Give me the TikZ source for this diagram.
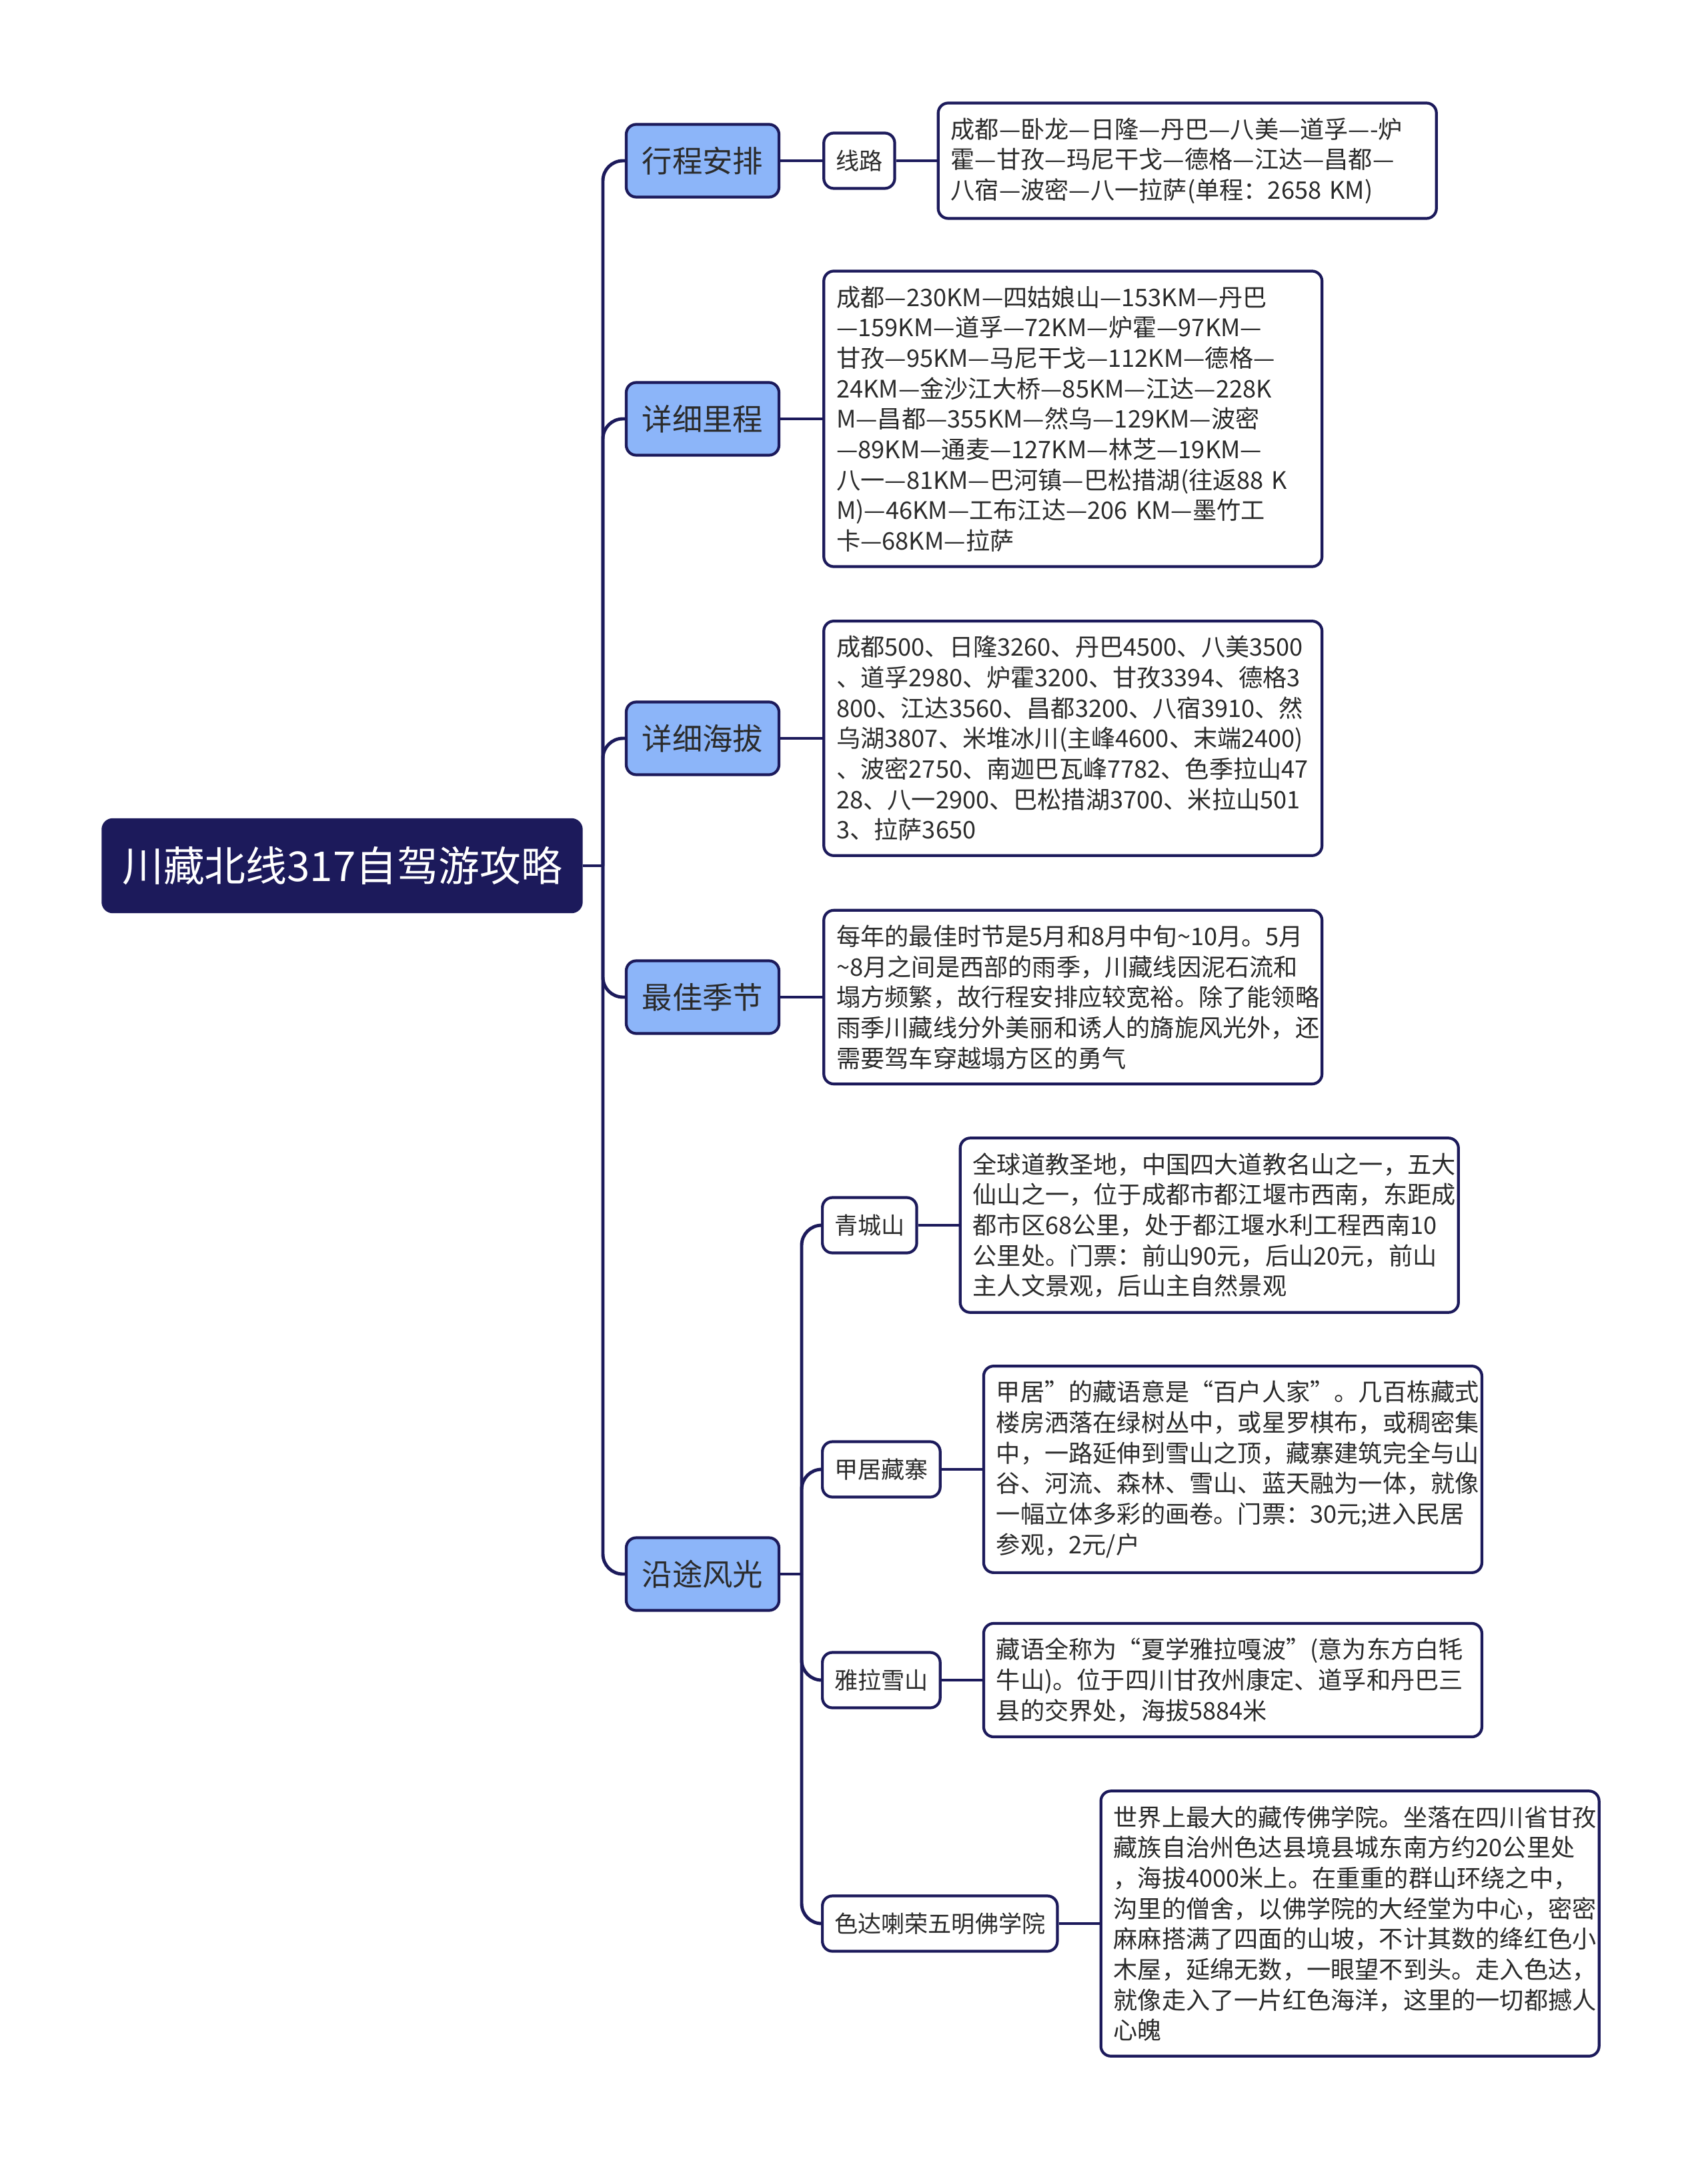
\documentclass[tikz,border=0pt]{standalone}
\usepackage{fontspec}
\setmainfont{Noto Sans CJK SC}
\usepackage{xcolor}
\usetikzlibrary{positioning}
\definecolor{navy}{HTML}{1C1A5B}
\definecolor{topicblue}{HTML}{8CB5F9}
\definecolor{inktext}{HTML}{2B2B2B}
\tikzset{
  rootnode/.style={rectangle,rounded corners=1.6mm,fill=navy,draw=navy,text=white,minimum width=7.2cm,minimum height=1.41cm,font=\fontsize{17.6}{20}\selectfont},
  topicnode/.style={rectangle,rounded corners=1.5mm,fill=topicblue,draw=navy,line width=1.2pt,text=inktext,minimum width=2.29cm,minimum height=1.09cm,inner sep=0pt,font=\fontsize{12.9}{15}\selectfont},
  subnode/.style={rectangle,rounded corners=1.5mm,fill=white,draw=navy,line width=1.2pt,text=inktext,minimum height=0.83cm,inner xsep=1.8mm,inner ysep=0pt,font=\fontsize{10}{12}\selectfont},
  notebox/.style={subnode,text width=7.09cm,align=left,inner xsep=1.9mm,inner ysep=2.2mm,font=\fontsize{10.3}{13}\selectfont},
  branch/.style={navy,line width=1.4pt,rounded corners=3mm},
}

\begin{document}
\begin{tikzpicture}
  \useasboundingbox[fill=white] (0,0) rectangle (25.6,-32.37);
  % root and main topics
  \node[rootnode] (nRoot) at (5.13,-12.98) {川藏北线317自驾游攻略};
  \node[topicnode] (nPlan) at (10.535,-2.41) {行程安排};
  \node[topicnode] (nDist) at (10.535,-6.28) {详细里程};
  \node[topicnode] (nAlt) at (10.535,-11.07) {详细海拔};
  \node[topicnode] (nSeason) at (10.535,-14.95) {最佳季节};
  \node[topicnode] (nView) at (10.535,-23.60) {沿途风光};
  \coordinate (jRoot) at (9.04,-12.98);
  \draw[branch] (nRoot.east) -- (jRoot);
  \foreach \t in {nPlan,nDist,nAlt,nSeason,nView}
    \draw[branch] (jRoot) |- (\t.west);

  % 行程安排
  \node[subnode,right=0.63cm of nPlan] (nRoute) {线路};
  \node[notebox,right=0.61cm of nRoute] (tRoute) {成都—卧龙—日隆—丹巴—八美—道孚—-炉\\霍—甘孜—玛尼干戈—德格—江达—昌都—\\八宿—波密—八一拉萨(单程：2658 KM)};
  \draw[branch] (nPlan.east) -- (nRoute.west);
  \draw[branch] (nRoute.east) -- (tRoute.west);

  % 详细里程, 详细海拔, 最佳季节
  \node[notebox,right=0.63cm of nDist] (tDist) {成都—230KM—四姑娘山—153KM—丹巴\\—159KM—道孚—72KM—炉霍—97KM—\\甘孜—95KM—马尼干戈—112KM—德格—\\24KM—金沙江大桥—85KM—江达—228K\\M—昌都—355KM—然乌—129KM—波密\\—89KM—通麦—127KM—林芝—19KM—\\八一—81KM—巴河镇—巴松措湖(往返88 K\\M)—46KM—工布江达—206 KM—墨竹工\\卡—68KM—拉萨};
  \node[notebox,right=0.63cm of nAlt] (tAlt) {成都500、日隆3260、丹巴4500、八美3500\\、道孚2980、炉霍3200、甘孜3394、德格3\\800、江达3560、昌都3200、八宿3910、然\\乌湖3807、米堆冰川(主峰4600、末端2400)\\、波密2750、南迦巴瓦峰7782、色季拉山47\\28、八一2900、巴松措湖3700、米拉山501\\3、拉萨3650};
  \node[notebox,right=0.63cm of nSeason] (tSeason) {每年的最佳时节是5月和8月中旬\textasciitilde10月。5月\\\textasciitilde8月之间是西部的雨季，川藏线因泥石流和\\塌方频繁，故行程安排应较宽裕。除了能领略\\雨季川藏线分外美丽和诱人的旖旎风光外，还\\需要驾车穿越塌方区的勇气};
  \draw[branch] (nDist.east) -- (tDist.west);
  \draw[branch] (nAlt.east) -- (tAlt.west);
  \draw[branch] (nSeason.east) -- (tSeason.west);

  % 沿途风光
  \node[subnode,anchor=west] (nQc) at (12.31,-18.37) {青城山};
  \node[subnode,anchor=west] (nJj) at (12.31,-22.03) {甲居藏寨};
  \node[subnode,anchor=west] (nYl) at (12.31,-25.19) {雅拉雪山};
  \node[subnode,anchor=west] (nSd) at (12.31,-28.84) {色达喇荣五明佛学院};
  \node[notebox,right=0.61cm of nQc] (tQc) {全球道教圣地，中国四大道教名山之一，五大\\仙山之一，位于成都市都江堰市西南，东距成\\都市区68公里，处于都江堰水利工程西南10\\公里处。门票：前山90元，后山20元，前山\\主人文景观，后山主自然景观};
  \node[notebox,right=0.61cm of nJj] (tJj) {甲居”的藏语意是“百户人家”。几百栋藏式\\楼房洒落在绿树丛中，或星罗棋布，或稠密集\\中，一路延伸到雪山之顶，藏寨建筑完全与山\\谷、河流、森林、雪山、蓝天融为一体，就像\\一幅立体多彩的画卷。门票：30元;进入民居\\参观，2元/户};
  \node[notebox,right=0.61cm of nYl] (tYl) {藏语全称为“夏学雅拉嘎波”(意为东方白牦\\牛山)。位于四川甘孜州康定、道孚和丹巴三\\县的交界处，海拔5884米};
  \node[notebox,right=0.61cm of nSd] (tSd) {世界上最大的藏传佛学院。坐落在四川省甘孜\\藏族自治州色达县境县城东南方约20公里处\\，海拔4000米上。在重重的群山环绕之中，\\沟里的僧舍，以佛学院的大经堂为中心，密密\\麻麻搭满了四面的山坡，不计其数的绛红色小\\木屋，延绵无数，一眼望不到头。走入色达，\\就像走入了一片红色海洋，这里的一切都撼人\\心魄};
  \coordinate (jView) at (12.02,-23.60);
  \draw[branch] (nView.east) -- (jView);
  \foreach \s/\t in {nQc/tQc,nJj/tJj,nYl/tYl,nSd/tSd} {
    \draw[branch] (jView) |- (\s.west);
    \draw[branch] (\s.east) -- (\t.west);
  }
\end{tikzpicture}
\end{document}
